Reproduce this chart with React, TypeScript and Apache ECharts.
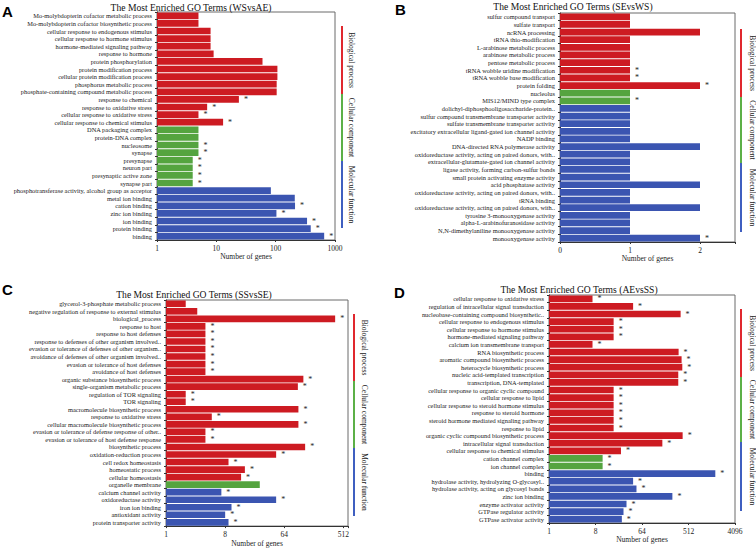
import React, { useEffect, useRef } from "react";
import * as echarts from "echarts";

const RED = "#cd1b22";
const GREEN = "#55a43f";
const BLUE = "#3b55b1";
const LRED = "#e0282e";
const LGREEN = "#5cb047";
const LBLUE = "#3f5fc0";
const SERIF = '"Liberation Serif", "DejaVu Serif", serif';

// Panel A (WSvsAE)
const aTitle = "The Most Enriched GO Terms (WSvsAE)";
const aTerms = [
  "Mo-molybdopterin cofactor metabolic process",
  "Mo-molybdopterin cofactor biosynthetic process",
  "cellular response to endogenous stimulus",
  "cellular response to hormone stimulus",
  "hormone-mediated signaling pathway",
  "response to hormone",
  "protein phosphorylation",
  "protein modification process",
  "cellular protein modification process",
  "phosphorus metabolic process",
  "phosphate-containing compound metabolic process",
  "response to chemical",
  "response to oxidative stress",
  "cellular response to oxidative stress",
  "cellular response to chemical stimulus",
  "DNA packaging complex",
  "protein-DNA complex",
  "nucleosome",
  "synapse",
  "presynapse",
  "neuron part",
  "presynaptic active zone",
  "synapse part",
  "phosphotransferase activity, alcohol group as acceptor",
  "metal ion binding",
  "cation binding",
  "zinc ion binding",
  "ion binding",
  "protein binding",
  "binding",
];
const aGenes = [5, 5, 8, 8, 8, 9, 60, 107, 107, 104, 104, 24, 7, 5, 13, 5, 5, 5, 5, 4, 4, 4, 4, 83, 210, 212, 103, 338, 390, 657];
const aStars = [0, 0, 0, 0, 0, 0, 0, 0, 0, 0, 0, 1, 1, 1, 1, 0, 0, 1, 1, 1, 1, 1, 1, 0, 0, 1, 1, 1, 1, 1];
const aGroups = [15, 8, 7];
const aTicks = [1, 10, 100, 1000];

// Panel B (SEvsWS)
const bTitle = "The Most Enriched GO Terms (SEvsWS)";
const bTerms = [
  "sulfur compound transport",
  "sulfate transport",
  "ncRNA processing",
  "tRNA thio-modification",
  "L-arabinose metabolic process",
  "arabinose metabolic process",
  "pentose metabolic process",
  "tRNA wobble uridine modification",
  "tRNA wobble base modification",
  "protein folding",
  "nucleolus",
  "MIS12/MIND type complex",
  "dolichyl-diphosphooligosaccharide-protein..",
  "sulfur compound transmembrane transporter activity",
  "sulfate transmembrane transporter activity",
  "excitatory extracellular ligand-gated ion channel activity",
  "NADP binding",
  "DNA-directed RNA polymerase activity",
  "oxidoreductase activity, acting on paired donors, with..",
  "extracellular-glutamate-gated ion channel activity",
  "ligase activity, forming carbon-sulfur bonds",
  "small protein activating enzyme activity",
  "acid phosphatase activity",
  "oxidoreductase activity, acting on paired donors, with..",
  "tRNA binding",
  "oxidoreductase activity, acting on paired donors, with..",
  "tyrosine 3-monooxygenase activity",
  "alpha-L-arabinofuranosidase activity",
  "N,N-dimethylaniline monooxygenase activity",
  "monooxygenase activity",
];
const bGenes = [1, 1, 2, 1, 1, 1, 1, 1, 1, 2, 1, 1, 1, 1, 1, 1, 1, 2, 1, 1, 1, 1, 2, 1, 1, 2, 1, 1, 1, 2];
const bStars = [0, 0, 0, 0, 0, 0, 0, 1, 1, 1, 0, 1, 0, 0, 0, 0, 0, 0, 0, 0, 0, 0, 0, 0, 0, 0, 0, 0, 0, 1];
const bGroups = [10, 2, 18];
const bTicks = [0, 1, 2];

// Panel C (SSvsSE)
const cTitle = "The Most Enriched GO Terms (SSvsSE)";
const cTerms = [
  "glycerol-3-phosphate metabolic process",
  "negative regulation of response to external stimulus",
  "biological_process",
  "response to host",
  "response to host defenses",
  "response to defenses of other organism involved..",
  "evasion or tolerance of defenses of other organism..",
  "avoidance of defenses of other organism involved..",
  "evasion or tolerance of host defenses",
  "avoidance of host defenses",
  "organic substance biosynthetic process",
  "single-organism metabolic process",
  "regulation of TOR signaling",
  "TOR signaling",
  "macromolecule biosynthetic process",
  "response to oxidative stress",
  "cellular macromolecule biosynthetic process",
  "evasion or tolerance of defense response of other..",
  "evasion or tolerance of host defense response",
  "biosynthetic process",
  "oxidation-reduction process",
  "cell redox homeostasis",
  "homeostatic process",
  "cellular homeostasis",
  "organelle membrane",
  "calcium channel activity",
  "oxidoreductase activity",
  "iron ion binding",
  "antioxidant activity",
  "protein transporter activity",
];
const cGenes = [2, 3, 382, 4, 4, 4, 4, 4, 4, 4, 125, 103, 2, 2, 105, 5, 105, 4, 4, 133, 48, 9, 16, 14, 27, 7, 48, 10, 8, 9];
const cStars = [0, 0, 1, 1, 1, 1, 1, 1, 1, 1, 1, 1, 1, 1, 1, 1, 1, 1, 1, 1, 1, 1, 1, 1, 0, 1, 1, 1, 1, 1];
const cGroups = [24, 1, 5];
const cTicks = [1, 8, 64, 512];

// Panel D (AEvsSS)
const dTitle = "The Most Enriched GO Terms (AEvsSS)";
const dTerms = [
  "cellular response to oxidative stress",
  "regulation of intracellular signal transduction",
  "nucleobase-containing compound biosynthetic..",
  "cellular response to endogenous stimulus",
  "cellular response to hormone stimulus",
  "hormone-mediated signaling pathway",
  "calcium ion transmembrane transport",
  "RNA biosynthetic process",
  "aromatic compound biosynthetic process",
  "heterocycle biosynthetic process",
  "nucleic acid-templated transcription",
  "transcription, DNA-templated",
  "cellular response to organic cyclic compound",
  "cellular response to lipid",
  "cellular response to steroid hormone stimulus",
  "response to steroid hormone",
  "steroid hormone mediated signaling pathway",
  "response to lipid",
  "organic cyclic compound biosynthetic process",
  "intracellular signal transduction",
  "cellular response to chemical stimulus",
  "cation channel complex",
  "ion channel complex",
  "binding",
  "hydrolase activity, hydrolyzing O-glycosyl..",
  "hydrolase activity, acting on glycosyl bonds",
  "zinc ion binding",
  "enzyme activator activity",
  "GTPase regulator activity",
  "GTPase activator activity",
];
const dGenes = [7, 43, 360, 18, 18, 18, 7, 329, 376, 388, 324, 324, 18, 18, 18, 18, 18, 18, 394, 159, 25, 11, 11, 1698, 43, 50, 249, 32, 28, 26];
const dStars = [1, 1, 1, 1, 1, 1, 1, 1, 1, 1, 1, 1, 1, 1, 1, 1, 1, 1, 1, 1, 1, 1, 1, 1, 1, 1, 1, 1, 1, 1];
const dGroups = [21, 2, 7];
const dTicks = [1, 8, 64, 512, 4096];

const groupNames = ["Biological process", "Cellular component", "Molecular function"];

function colorsFor(groups: number[]) {
  const out: string[] = [];
  const cs = [RED, GREEN, BLUE];
  groups.forEach((n, g) => {
    for (let i = 0; i < n; i++) out.push(cs[g]);
  });
  return out;
}

const panels = [
  {
    title: aTitle, terms: aTerms, genes: aGenes, stars: aStars, groups: aGroups, ticks: aTicks,
    grid: { left: 157, top: 12, width: 178, height: 228 },
    axis: { type: "log", logBase: 10, min: 1, max: 1000, interval: 1 },
    nameGap: 11, titleX: 191, titleY: 7, letter: "A", letterX: 2, letterY: 11,
    legX: 342, legSeg: [26, 94, 161, 228], legTextX: 351,
  },
  {
    title: bTitle, terms: bTerms, genes: bGenes, stars: bStars, groups: bGroups, ticks: bTicks,
    grid: { left: 560, top: 13, width: 175, height: 229 },
    axis: { type: "value", min: 0, max: 2.5, interval: 1 },
    nameGap: 11, titleX: 573, titleY: 6.5, letter: "B", letterX: 395, letterY: 9,
    legX: 741, legSeg: [29, 97, 163, 232], legTextX: 752,
  },
  {
    title: cTitle, terms: cTerms, genes: cGenes, stars: cStars, groups: cGroups, ticks: cTicks,
    grid: { left: 166, top: 300, width: 182, height: 228 },
    axis: { type: "log", logBase: 2, min: 1, max: 600, interval: 3 },
    nameGap: 10, titleX: 194, titleY: 294.5, letter: "C", letterX: 2, letterY: 289,
    legX: 354, legSeg: [314, 381, 448, 516], legTextX: 364,
  },
  {
    title: dTitle, terms: dTerms, genes: dGenes, stars: dStars, groups: dGroups, ticks: dTicks,
    grid: { left: 549, top: 295, width: 186, height: 228 },
    axis: { type: "log", logBase: 2, min: 1, max: 4096, interval: 3 },
    nameGap: 10, titleX: 579, titleY: 289.5, letter: "D", letterX: 394, letterY: 292,
    legX: 741, legSeg: [309, 377, 442, 511], legTextX: 752,
  },
];

export default function App() {
  const ref = useRef<HTMLDivElement>(null);
  useEffect(() => {
    if (!ref.current) return;
    const chart = echarts.init(ref.current, undefined, { renderer: "svg" });

    const grids: any[] = [];
    const xAxes: any[] = [];
    const yAxes: any[] = [];
    const series: any[] = [];
    const graphics: any[] = [];

    panels.forEach((p, k) => {
      grids.push({ ...p.grid, show: true, borderColor: "#6a6a6a", borderWidth: 1, backgroundColor: "transparent" });
      const ticks = p.ticks;
      xAxes.push({
        gridIndex: k,
        ...p.axis,
        name: "Number of genes",
        nameLocation: "middle",
        nameGap: p.nameGap,
        nameTextStyle: { fontFamily: SERIF, fontSize: 7.5, color: "#222", verticalAlign: "top" },
        axisLine: { show: true, lineStyle: { color: "#333", width: 1 } },
        axisTick: { show: true, length: 2, lineStyle: { color: "#333" } },
        splitLine: { show: false },
        axisLabel: {
          fontFamily: SERIF,
          fontSize: 7.5,
          color: "#222",
          margin: 4,
          formatter: (v: number) => {
            const r = Math.round(v);
            return ticks.includes(r) && Math.abs(v - r) < 1e-6 ? String(r) : "";
          },
        },
      });
      const terms = p.terms;
      yAxes.push({
        gridIndex: k,
        type: "category",
        inverse: true,
        data: terms.map((_, i) => String(i)),
        axisLine: { show: true, lineStyle: { color: "#333" } },
        axisTick: { show: true, length: 2, lineStyle: { color: "#333" } },
        splitLine: { show: false },
        axisLabel: {
          interval: 0,
          fontFamily: SERIF,
          fontSize: 6.4,
          color: "#1a1a1a",
          margin: 5,
          formatter: (v: string) => terms[Number(v)],
        },
      });
      const cols = colorsFor(p.groups);
      series.push({
        type: "bar",
        xAxisIndex: k,
        yAxisIndex: k,
        barCategoryGap: "12%",
        silent: true,
        data: p.genes.map((v, i) => ({
          value: v,
          itemStyle: { color: cols[i] },
          label: { show: p.stars[i] === 1 },
        })),
        label: {
          position: "right",
          distance: 5,
          formatter: "*",
          fontFamily: SERIF,
          fontSize: 8,
          color: "#222",
        },
      });

      graphics.push({
        type: "text",
        x: p.titleX,
        y: p.titleY,
        style: { text: p.title, fontFamily: SERIF, fontSize: 9.6, fill: "#111", align: "center", verticalAlign: "middle" },
      });
      graphics.push({
        type: "text",
        x: p.letterX,
        y: p.letterY,
        style: { text: p.letter, fontFamily: '"Liberation Sans", Arial, sans-serif', fontWeight: "bold", fontSize: 15, fill: "#000", align: "left", verticalAlign: "middle" },
      });
      const legCols = [LRED, LGREEN, LBLUE];
      for (let g = 0; g < 3; g++) {
        const y0 = p.legSeg[g];
        const y1 = p.legSeg[g + 1];
        graphics.push({
          type: "rect",
          shape: { x: p.legX - 1, y: y0, width: 2, height: y1 - y0 },
          style: { fill: legCols[g] },
        });
        graphics.push({
          type: "text",
          x: p.legTextX,
          y: (y0 + y1) / 2,
          rotation: -Math.PI / 2,
          style: { text: groupNames[g], fontFamily: SERIF, fontSize: 7.5, fill: "#222", align: "center", verticalAlign: "middle" },
        });
      }
    });

    chart.setOption({
      animation: false,
      backgroundColor: "#ffffff",
      grid: grids,
      xAxis: xAxes,
      yAxis: yAxes,
      series,
      graphic: graphics,
    });
    return () => chart.dispose();
  }, []);
  return <div ref={ref} style={{ position: "absolute", left: 0, top: 0, width: 756, height: 548 }} />;
}
